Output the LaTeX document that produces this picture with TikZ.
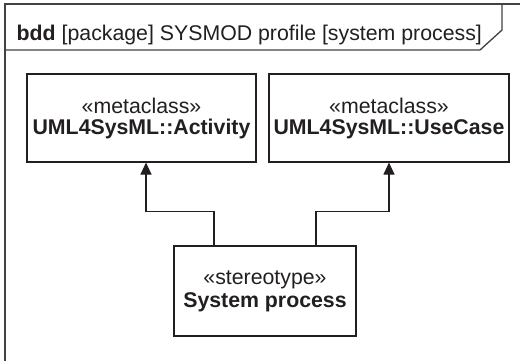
\documentclass[tikz,border=0pt]{standalone}
\usepackage{fontspec}
\setmainfont{Liberation Sans}
\usetikzlibrary{arrows.meta}
\definecolor{ink}{HTML}{231F20}
\tikzset{
  frameline/.style={draw=ink!85, line width=1.3pt},
  umlbox/.style={draw=ink, line width=1.1pt, rectangle, inner sep=0pt, align=center,
     text=ink, font=\fontsize{21.3}{21}\selectfont},
  gen/.style={draw=ink, line width=1.1pt, -{Triangle[width=11pt,length=12pt]}},
}
\begin{document}
\begin{tikzpicture}[x=1pt,y=-1pt]
\clip (0,0) rectangle (520,360);
\fill[white] (0,0) rectangle (520,360);
% frame
\draw[frameline] (530,4) -- (5,4) -- (5,370);
\draw[frameline] (5,50) -- (480,50) -- (502,30) -- (502,4);
\node[anchor=base west, inner sep=0pt, text=ink, font=\fontsize{21.3}{24}\selectfont] (title) at (16.5,40)
  {\textbf{bdd} [package] SYSMOD profile [system process]};
% boxes
\node[umlbox, minimum width=229pt, minimum height=88pt] (act) at (141.5,118)
  {«metaclass»\\\textbf{UML4SysML::Activity}};
\node[umlbox, minimum width=240pt, minimum height=88pt] (uc) at (389,118)
  {«metaclass»\\\textbf{UML4SysML::UseCase}};
\node[umlbox, minimum width=182pt, minimum height=90pt, font=\fontsize{21.3}{23}\selectfont] (sp) at (265,291)
  {«stereotype»\\\textbf{System process}};
% generalizations
\draw[gen] ([xshift=-51pt]sp.north) -- ++(0,-34) -| ([xshift=4.5pt]act.south);
\draw[gen] ([xshift=51pt]sp.north) -- ++(0,-34) -| (uc.south);
\end{tikzpicture}
\end{document}
